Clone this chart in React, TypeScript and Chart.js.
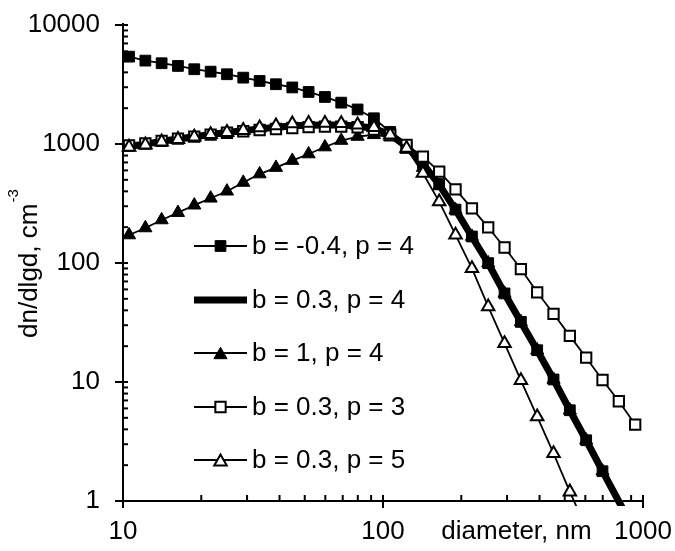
import React, { useEffect, useRef } from 'react';
import { Chart, registerables } from 'chart.js';

Chart.register(...registerables);

// ---- data ----
const DIAMETER_NM = [
  10.55, 12.19, 14.08, 16.27, 18.8, 21.73, 25.11, 29.01, 33.53, 38.75, 44.78, 51.74, 59.79, 69.09, 79.85, 92.27,
  106.6, 123.2, 142.4, 164.5, 190.1, 219.8, 253.9, 293.4, 339.1, 391.8, 452.8, 523.2, 604.6, 698.7, 807.4, 933.0,
];

const SERIES_BNEG04_P4 = [
  5420, 5018, 4772, 4529, 4250, 4055, 3857, 3611, 3388, 3178, 2987, 2737, 2485, 2226, 1951, 1645,
  1262, 943, 692, 461, 281, 167, 99.8, 55.5, 32.0, 18.5, 10.5, 5.79, 3.24, 1.78,
];

const SERIES_B03_P4 = [
  957, 997, 1053, 1102, 1150, 1201, 1248, 1291, 1340, 1380, 1420, 1440, 1447, 1443, 1416, 1350,
  1200, 955, 680, 455, 280, 166, 99.5, 55.5, 32.0, 18.5, 10.5, 5.79, 3.24, 1.78, 0.99, 0.55,
];

const SERIES_B1_P4 = [
  172, 197, 230, 265, 306, 350, 401, 475, 559, 634, 726, 824, 943, 1070, 1156, 1195,
  1145, 899, 634, 444, 279, 167, 99.8, 55.5, 32.0, 18.5, 10.5, 5.79, 3.24, 1.78,
];

const SERIES_B03_P3 = [
  971, 1010, 1064, 1110, 1154, 1200, 1243, 1279, 1312, 1337, 1363, 1384, 1398, 1398, 1382, 1324,
  1191, 981, 782, 585, 416, 288, 199, 135, 88.9, 56.7, 37.4, 24.4, 16.0, 10.4, 6.89, 4.39,
];

const SERIES_B03_P5 = [
  943, 985, 1043, 1095, 1145, 1202, 1254, 1304, 1369, 1425, 1479, 1496, 1496, 1487, 1450, 1376,
  1195, 922, 568, 328, 172, 90.2, 43.0, 21.1, 10.3, 5.11, 2.51, 1.195, 0.59,
];

const LEGEND_LABELS = ['b = -0.4, p = 4', 'b = 0.3, p = 4', 'b = 1, p = 4', 'b = 0.3, p = 3', 'b = 0.3, p = 5'];
const X_TICK_LABELS = [10, 100, 1000];
const Y_TICK_LABELS = [1, 10, 100, 1000, 10000];
const X_TITLE = 'diameter, nm';
const Y_TITLE = 'dn/dlgd, cm';
const Y_TITLE_SUP = '-3';

// ---- styling ----
const FONT = '"Liberation Sans", Arial, Helvetica, sans-serif';
const FONT_SIZE = 26;

type MarkerKind = 'rectFilled' | 'rectOpen' | 'triFilled' | 'triOpen' | 'none';

interface SeriesStyle {
  lineWidth: number;
  marker: MarkerKind;
  radius: number;
  markerBorder: number;
  order: number;
}

const STYLES: SeriesStyle[] = [
  { lineWidth: 1.8, marker: 'rectFilled', radius: 7.6, markerBorder: 1, order: 5 },
  { lineWidth: 7, marker: 'none', radius: 0, markerBorder: 0, order: 4 },
  { lineWidth: 1.8, marker: 'triFilled', radius: 7.6, markerBorder: 1, order: 3 },
  { lineWidth: 1.8, marker: 'rectOpen', radius: 7.3, markerBorder: 2, order: 2 },
  { lineWidth: 1.8, marker: 'triOpen', radius: 7.2, markerBorder: 2, order: 1 },
];

const SERIES = [SERIES_BNEG04_P4, SERIES_B03_P4, SERIES_B1_P4, SERIES_B03_P3, SERIES_B03_P5];

function isDecade(v: number): boolean {
  const l = Math.log10(v);
  return Math.abs(l - Math.round(l)) < 1e-9;
}

function logTicks(decades: number[]) {
  const out: { value: number }[] = [];
  for (let i = 0; i < decades.length; i++) {
    const d = decades[i];
    out.push({ value: d });
    if (i < decades.length - 1) {
      for (let m = 2; m <= 9; m++) out.push({ value: d * m });
    }
  }
  return out;
}

function zeroPadding(s: any) {
  s.paddingTop = 0;
  s.paddingBottom = 0;
  s.paddingLeft = 0;
  s.paddingRight = 0;
}

function drawMarker(ctx: CanvasRenderingContext2D, kind: MarkerKind, x: number, y: number, r: number, bw: number) {
  if (kind === 'none') return;
  ctx.save();
  ctx.beginPath();
  if (kind === 'rectFilled' || kind === 'rectOpen') {
    const s = Math.SQRT1_2 * r;
    ctx.rect(x - s, y - s, 2 * s, 2 * s);
  } else {
    const rr = r;
    const yc = y + rr * 0.25; // centre the triangle's box on the row
    ctx.moveTo(x, yc - rr);
    ctx.lineTo(x + rr * Math.sin((2 * Math.PI) / 3), yc - rr * Math.cos((2 * Math.PI) / 3));
    ctx.lineTo(x + rr * Math.sin((4 * Math.PI) / 3), yc - rr * Math.cos((4 * Math.PI) / 3));
    ctx.closePath();
  }
  ctx.fillStyle = kind === 'rectOpen' || kind === 'triOpen' ? '#fff' : '#000';
  ctx.fill();
  ctx.lineWidth = bw;
  ctx.strokeStyle = '#000';
  ctx.lineJoin = 'miter';
  ctx.stroke();
  ctx.restore();
}

const axesPlugin = {
  id: 'excelAxes',
  beforeDatasetsDraw(chart: any) {
    const { ctx, chartArea: ca, scales } = chart;
    const xs = scales.x;
    const ys = scales.y;
    ctx.save();
    ctx.strokeStyle = '#000';
    ctx.lineWidth = 2;
    ctx.lineCap = 'butt';
    ctx.beginPath();
    ctx.moveTo(ca.left, ca.top - 2);
    ctx.lineTo(ca.left, ca.bottom + 1);
    ctx.moveTo(ca.left - 1, ca.bottom);
    ctx.lineTo(ca.right + 1, ca.bottom);
    ctx.stroke();
    ys.ticks.forEach((t: any) => {
      const y = ys.getPixelForValue(t.value);
      const major = isDecade(t.value);
      ctx.beginPath();
      ctx.moveTo(ca.left - (major ? 8 : 0), y);
      ctx.lineTo(ca.left + 5, y);
      ctx.stroke();
    });
    xs.ticks.forEach((t: any) => {
      const x = xs.getPixelForValue(t.value);
      const major = isDecade(t.value);
      ctx.beginPath();
      ctx.moveTo(x, ca.bottom + (major ? 7 : 0));
      ctx.lineTo(x, ca.bottom - 6);
      ctx.stroke();
    });
    ctx.restore();
  },
};

const LEGEND_ROWS_Y = [246, 300, 353, 407, 460];

const overlayPlugin = {
  id: 'excelOverlay',
  afterDraw(chart: any) {
    const { ctx, scales } = chart;
    const xs = scales.x;
    ctx.save();
    ctx.fillStyle = '#000';
    // legend
    ctx.font = `${FONT_SIZE}px ${FONT}`;
    ctx.textAlign = 'left';
    ctx.textBaseline = 'middle';
    LEGEND_LABELS.forEach((label, i) => {
      const st = STYLES[i];
      const y = LEGEND_ROWS_Y[i];
      ctx.beginPath();
      ctx.lineWidth = st.lineWidth;
      ctx.strokeStyle = '#000';
      ctx.lineCap = 'butt';
      ctx.moveTo(194, y);
      ctx.lineTo(247, y);
      ctx.stroke();
      drawMarker(ctx, st.marker, 220.5, y, st.radius, st.markerBorder);
      ctx.fillStyle = '#000';
      ctx.fillText(label, 252, y + 1);
    });
    // x title (on the tick-label line)
    ctx.textAlign = 'center';
    ctx.textBaseline = 'middle';
    ctx.fillText(X_TITLE, 516.5, xs.top + 15 + (FONT_SIZE * 1.2) / 2);
    // y title rotated
    ctx.translate(37, 338);
    ctx.rotate(-Math.PI / 2);
    ctx.textAlign = 'left';
    ctx.textBaseline = 'alphabetic';
    ctx.font = `${FONT_SIZE}px ${FONT}`;
    ctx.fillText(Y_TITLE, 0, 0);
    const w = ctx.measureText(Y_TITLE).width;
    ctx.font = `15px ${FONT}`;
    ctx.fillText(Y_TITLE_SUP, w + 1, -19);
    ctx.restore();
  },
};

export default function App() {
  const canvasRef = useRef<HTMLCanvasElement | null>(null);

  useEffect(() => {
    const canvas = canvasRef.current;
    if (!canvas) return;

    const datasets = SERIES.map((ys, i) => {
      const st = STYLES[i];
      const filled = st.marker === 'rectFilled' || st.marker === 'triFilled';
      return {
        label: LEGEND_LABELS[i],
        data: ys.map((y, k) => ({ x: DIAMETER_NM[k], y })),
        order: st.order,
        borderColor: '#000',
        borderWidth: st.lineWidth,
        borderJoinStyle: 'round' as const,
        tension: 0,
        fill: false,
        clip: 5,
        pointStyle: st.marker === 'rectFilled' || st.marker === 'rectOpen' ? 'rect' : 'triangle',
        pointRadius: st.radius,
        pointHoverRadius: st.radius,
        pointBorderWidth: st.markerBorder,
        pointBorderColor: '#000',
        pointBackgroundColor: filled ? '#000' : '#fff',
      };
    });

    const tickFont = { family: FONT, size: FONT_SIZE };

    const chart = new Chart(canvas, {
      type: 'line',
      data: { datasets: datasets as any },
      options: {
        responsive: false,
        animation: false,
        events: [],
        layout: { autoPadding: false, padding: { left: 0, top: 25, right: 32, bottom: 0 } },
        plugins: { legend: { display: false }, tooltip: { enabled: false } },
        scales: {
          x: {
            type: 'logarithmic',
            min: X_TICK_LABELS[0],
            max: X_TICK_LABELS[X_TICK_LABELS.length - 1],
            afterBuildTicks: (s: any) => {
              s.ticks = logTicks(X_TICK_LABELS);
            },
            afterFit: (s: any) => {
              s.height = 50;
              zeroPadding(s);
            },
            grid: { display: false, drawTicks: false },
            border: { display: false },
            ticks: {
              autoSkip: false,
              maxRotation: 0,
              minRotation: 0,
              padding: 15,
              color: '#000',
              font: tickFont,
              callback: (v: any) => (isDecade(Number(v)) ? String(v) : ''),
            },
          },
          y: {
            type: 'logarithmic',
            min: Y_TICK_LABELS[0],
            max: Y_TICK_LABELS[Y_TICK_LABELS.length - 1],
            afterBuildTicks: (s: any) => {
              s.ticks = logTicks(Y_TICK_LABELS);
            },
            afterFit: (s: any) => {
              s.width = 123;
              zeroPadding(s);
            },
            grid: { display: false, drawTicks: false },
            border: { display: false },
            ticks: {
              autoSkip: false,
              padding: 23,
              color: '#000',
              font: tickFont,
              callback: (v: any) => (isDecade(Number(v)) ? String(v) : ''),
            },
          },
        },
      } as any,
      plugins: [axesPlugin, overlayPlugin],
    });

    return () => {
      chart.destroy();
    };
  }, []);

  return (
    <div style={{ position: 'fixed', left: 0, top: 0, width: 675, height: 551, background: '#fff' }}>
      <canvas ref={canvasRef} width={675} height={551} style={{ display: 'block', width: 675, height: 551 }} />
    </div>
  );
}
